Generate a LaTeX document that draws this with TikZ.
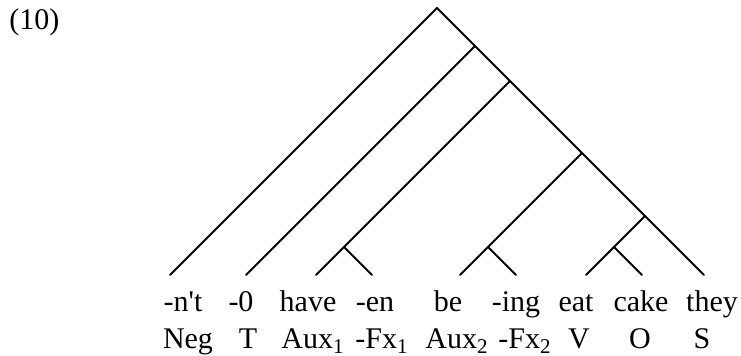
\documentclass[tikz,border=0pt]{standalone}
\usepackage{fontspec}
\setmainfont{Liberation Serif}
\usetikzlibrary{positioning}
\tikzset{
  vetev/.style={line width=1pt,line cap=round},
  slovo/.style={anchor=base,inner sep=0pt,font=\fontsize{15}{18}\selectfont},
  kat/.style={anchor=base,inner sep=0pt,font=\fontsize{15}{18}\selectfont},
}

\begin{document}
\begin{tikzpicture}[x=0.5pt,y=-0.5pt]
\useasboundingbox (0,0) rectangle (741,356);
\node[slovo,anchor=base west] (cislo) at (9,30) {(10)};
% vnitrni uzly
\coordinate (r) at (437,8);
\coordinate (a) at (475,46);
\coordinate (b) at (510,81);
\coordinate (c) at (582,153);
\coordinate (d) at (645,216);
\coordinate (e) at (344,247);
\coordinate (f) at (488,247);
\coordinate (g) at (614,247);
% listy
\foreach \x/\n in {170/neg,246/t,316/aux1,372/fx1,460/aux2,516/fx2,586/v,642/o,704/s}
  \coordinate (l\n) at (\x,275);
% vetve
\draw[vetev] (lneg) -- (r) -- (ls);
\draw[vetev] (a) -- (lt);
\draw[vetev] (b) -- (e);
\draw[vetev] (laux1) -- (e) -- (lfx1);
\draw[vetev] (c) -- (f);
\draw[vetev] (laux2) -- (f) -- (lfx2);
\draw[vetev] (d) -- (g);
\draw[vetev] (lv) -- (g) -- (lo);
% slova
\foreach \x/\n/\w in {183/neg/{-n\textquotesingle t},241/t/{-0},308/aux1/{have},375/fx1/{-en},
    448/aux2/{be},516/fx2/{-ing},576/v/{eat},641/o/{cake},712/s/{they}}
  \node[slovo] (w\n) at (\x,312) {\w};
% kategorie
\foreach \x/\n/\w in {188/neg/{Neg},248/t/{T},313/aux1/{Aux\textsubscript{1}},382/fx1/{-Fx\textsubscript{1}},
    457/aux2/{Aux\textsubscript{2}},525/fx2/{-Fx\textsubscript{2}},579/v/{V},640/o/{O},702/s/{S}}
  \node[kat] (k\n) at (\x,349) {\w};
\end{tikzpicture}
\end{document}
